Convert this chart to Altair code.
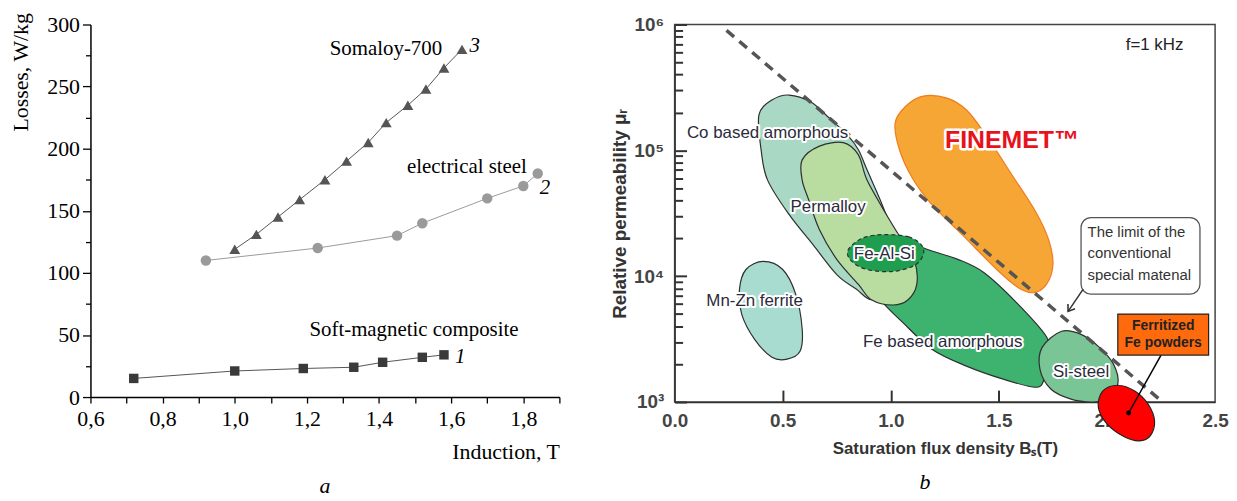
import altair as alt
import pandas as pd

SERIF = "Liberation Serif"
SANS = "Liberation Sans"

# ---------------- panel a : losses vs induction ----------------
smc_x = [0.72, 1.00, 1.19, 1.33, 1.41, 1.52, 1.58]
smc_y = [15, 21, 23, 24, 28, 32, 34]
steel_x = [0.92, 1.23, 1.45, 1.52, 1.70, 1.80, 1.84]
steel_y = [110, 120, 130, 140, 160, 170, 180]
som_x = [1.00, 1.06, 1.12, 1.18, 1.25, 1.31, 1.37, 1.42, 1.48, 1.53, 1.58, 1.63]
som_y = [119, 131, 145, 159, 175, 190, 205, 221, 235, 248, 265, 280]

a_x_ticks = [0.6, 0.7, 0.8, 0.9, 1.0, 1.1, 1.2, 1.3, 1.4, 1.5, 1.6, 1.7, 1.8, 1.9]
a_y_ticks = [0, 25, 50, 75, 100, 125, 150, 175, 200, 225, 250, 275, 300]

a_names = ["Somaloy-700", "electrical steel"]
a_names_x = [1.575, 1.81]
a_names_y = [280, 185]
a_smc_name = ["Soft-magnetic composite"]
a_smc_name_x = [1.207]
a_smc_name_y = [54]
a_num = ["3", "2", "1"]
a_num_x = [1.665, 1.86, 1.625]
a_num_y = [283, 168, 32]

# ---------------- panel b : permeability map ----------------
co_x = [0.39, 0.45, 0.53, 0.63, 0.71, 0.80, 0.85, 0.89, 0.96, 1.01, 1.03, 0.98, 0.91, 0.84, 0.75, 0.64, 0.53, 0.43, 0.40]
co_y = [1.91e5, 2.51e5, 2.75e5, 2.42e5, 1.84e5, 1.32e5, 1.01e5, 7.0e4, 3.7e4, 2.14e4, 1.36e4, 7.9e3, 6.5e3, 7.9e3, 1.03e4, 1.78e4, 3.08e4, 5.8e4, 1.01e5]
perm_x = [0.59, 0.67, 0.78, 0.85, 0.89, 0.98, 1.05, 1.11, 1.12, 1.08, 1.01, 0.91, 0.85, 0.75, 0.67, 0.62, 0.59]
perm_y = [8.4e4, 1.08e5, 1.15e5, 9.2e4, 5.8e4, 3.08e4, 1.95e4, 1.31e4, 8.6e3, 6.5e3, 5.9e3, 6.5e3, 8.6e3, 1.36e4, 2.34e4, 4.05e4, 5.8e4]
feam_x = [0.85, 1.03, 1.17, 1.31, 1.43, 1.58, 1.72, 1.74, 1.71, 1.67, 1.52, 1.35, 1.19, 1.05, 0.97, 0.89, 0.84]
feam_y = [1.78e4, 2.0e4, 1.63e4, 1.36e4, 1.07e4, 6.2e3, 3.3e3, 2.2e3, 1.52e3, 1.31e3, 1.52e3, 1.93e3, 2.63e3, 4.37e3, 5.97e3, 8.6e3, 1.24e4]
fealsi_x = [0.97, 1.08, 1.14, 1.15, 1.11, 1.01, 0.89, 0.82, 0.80, 0.84, 0.89]
fealsi_y = [2.14e4, 2.06e4, 1.78e4, 1.49e4, 1.22e4, 1.09e4, 1.13e4, 1.31e4, 1.57e4, 1.88e4, 2.06e4]
mnzn_x = [0.41, 0.50, 0.56, 0.59, 0.58, 0.52, 0.45, 0.37, 0.31, 0.30, 0.33]
mnzn_y = [1.31e4, 1.13e4, 7.2e3, 3.8e3, 2.53e3, 2.19e3, 2.27e3, 3.15e3, 5.0e3, 7.9e3, 1.13e4]
sist_x = [1.79, 1.88, 1.96, 2.03, 2.05, 2.00, 1.93, 1.83, 1.74, 1.69, 1.70]
sist_y = [3.65e3, 3.45e3, 2.77e3, 2.0e3, 1.39e3, 1.06e3, 1.0e3, 1.06e3, 1.27e3, 1.82e3, 2.72e3]
fin_x = [1.15, 1.26, 1.35, 1.44, 1.56, 1.67, 1.73, 1.75, 1.72, 1.66, 1.59, 1.49, 1.33, 1.19, 1.10, 1.04, 1.02, 1.07]
fin_y = [2.70e5, 2.60e5, 2.09e5, 1.32e5, 6.4e4, 3.25e4, 1.95e4, 1.24e4, 8.6e3, 7.4e3, 8.1e3, 1.13e4, 2.14e4, 3.7e4, 6.0e4, 1.01e5, 1.65e5, 2.25e5]
red_x = [2.05, 2.13, 2.19, 2.22, 2.20, 2.15, 2.08, 2.00, 1.96, 1.98]
red_y = [1.36e3, 1.22e3, 964, 708, 538, 491, 529, 670, 912, 1.22e3]

limit_x = [0.24, 2.24]
limit_y = [8.97e5, 1.06e3]

region_names = ["Co based amorphous", "Permalloy", "Fe-Al-Si", "Mn-Zn ferrite", "Fe based amorphous", "Si-steel"]
region_x = [0.43, 0.71, 0.97, 0.37, 1.24, 1.88]
region_y = [1.37e5, 3.57e4, 1.49e4, 6.3e3, 2.99e3, 1.73e3]

box1_x = [1.88]; box1_x2 = [2.43]; box1_y = [7.2e3]; box1_y2 = [2.92e4]
box1_text = ["The limit of the", "conventional", "special matenal"]
box1_text_x = [1.91, 1.91, 1.91]
box1_text_y = [2.26e4, 1.54e4, 1.03e4]
arrow1_x = [1.89, 1.82]
arrow1_y = [7.9e3, 5.25e3]

box2_x = [2.05]; box2_x2 = [2.47]; box2_y = [2.36e3]; box2_y2 = [5.0e3]
box2_text = ["Ferritized", "Fe powders"]
box2_text_x = [2.26, 2.26]
box2_text_y = [4.0e3, 2.93e3]
pointer_x = [2.10, 2.25]
pointer_y = [818, 2.36e3]

b_x_labels = [0.0, 0.5, 1.0, 1.5, 2.0, 2.5]
b_x_inner = [0.5, 1.0, 1.5, 2.0]
b_y_labels = [1e3, 1e4, 1e5, 1e6]
b_y_inner = [m * d for d in [1e3, 1e4, 1e5] for m in range(1, 10)] + [1e6]


def pts(xs, ys):
    return pd.DataFrame({"x": xs, "y": ys, "i": list(range(len(xs)))})


# ================= panel a =================
xa = alt.Scale(domain=[0.6, 1.9], nice=False, zero=False)
ya = alt.Scale(domain=[0, 300], nice=False, zero=False)

x_axis_a = alt.Axis(
    values=a_x_ticks, title="Induction, T", titleAnchor="end",
    labelExpr="round(datum.value*10) % 2 == 0 ? replace(format(datum.value, '.1f'), '.', ',') : ''",
    labelOverlap=False, labelFlush=False, grid=False,
    tickSize=6, tickWidth=1.3, tickColor="black", domainColor="black", domainWidth=1.5,
    labelFont=SERIF, labelFontSize=22, labelColor="black", labelPadding=6,
    titleFont=SERIF, titleFontSize=22, titleFontWeight="normal", titleColor="black", titlePadding=12,
)
y_axis_a = alt.Axis(
    values=a_y_ticks, title="Losses, W/kg", titleAnchor="end", titleY=-12,
    labelExpr="datum.value % 50 == 0 ? datum.label : ''",
    labelOverlap=False, labelFlush=False, grid=False,
    tickSize={"condition": {"test": "datum.value % 50 == 0", "value": 8}, "value": 5},
    tickWidth=1.3, tickColor="black", domainColor="black", domainWidth=1.5,
    labelFont=SERIF, labelFontSize=22, labelColor="black", labelPadding=3,
    titleFont=SERIF, titleFontSize=22, titleFontWeight="normal", titleColor="black", titlePadding=14,
)

series = [
    (smc_x, smc_y, "#555555", "square", "#3a3a3a", 90),
    (steel_x, steel_y, "#9a9a9a", "circle", "#9a9a9a", 110),
    (som_x, som_y, "#555555", "triangle-up", "#555555", 120),
]
a_layers = []
first = True
for xs, ys, lc, shp, mc, sz in series:
    df = pts(xs, ys)
    ax = x_axis_a if first else None
    ay = y_axis_a if first else None
    first = False
    a_layers.append(alt.Chart(df).mark_line(color=lc, strokeWidth=1).encode(
        x=alt.X("x:Q", scale=xa, axis=ax), y=alt.Y("y:Q", scale=ya, axis=ay), order="i:Q"))
    a_layers.append(alt.Chart(df).mark_point(shape=shp, filled=True, size=sz, color=mc, opacity=1).encode(
        x=alt.X("x:Q", scale=xa, axis=None), y=alt.Y("y:Q", scale=ya, axis=None)))

names_df = pd.DataFrame({"x": a_names_x, "y": a_names_y, "t": a_names})
a_layers.append(alt.Chart(names_df).mark_text(font=SERIF, fontSize=21, align="right", baseline="middle", color="black").encode(
    x=alt.X("x:Q", scale=xa, axis=None), y=alt.Y("y:Q", scale=ya, axis=None), text="t:N"))
smc_df = pd.DataFrame({"x": a_smc_name_x, "y": a_smc_name_y, "t": a_smc_name})
a_layers.append(alt.Chart(smc_df).mark_text(font=SERIF, fontSize=21, align="left", baseline="middle", color="black").encode(
    x=alt.X("x:Q", scale=xa, axis=None), y=alt.Y("y:Q", scale=ya, axis=None), text="t:N"))
num_df = pd.DataFrame({"x": a_num_x, "y": a_num_y, "t": a_num})
a_layers.append(alt.Chart(num_df).mark_text(font=SERIF, fontSize=21, fontStyle="italic", align="center", baseline="middle", color="black").encode(
    x=alt.X("x:Q", scale=xa, axis=None), y=alt.Y("y:Q", scale=ya, axis=None), text="t:N"))

left = alt.layer(*a_layers).resolve_axis(x="independent", y="independent").properties(
    width=472, height=375,
    title=alt.TitleParams("a", orient="bottom", font=SERIF, fontSize=22, fontStyle="italic",
                          fontWeight="normal", color="black", offset=14),
)

# ================= panel b =================
xb = alt.Scale(domain=[0, 2.5], nice=False, zero=False)
yb = alt.Scale(type="log", domain=[1000, 1000000], nice=False)
W, H = 544, 380

x_axis_b = alt.Axis(
    values=b_x_labels, format=".1f", ticks=False, grid=False, labelFlush=False, labelOverlap=False,
    domainColor="#333", domainWidth=1.5, labelFont=SANS, labelFontSize=19, labelFontWeight="bold",
    labelColor="#444", labelPadding=10,
    title="Saturation flux density   B\u209b(T)", titleFont=SANS, titleFontSize=17, titleFontWeight="bold",
    titleColor="#333", titlePadding=10,
)
y_axis_b = alt.Axis(
    values=b_y_labels, ticks=False, grid=False, labelFlush=False, labelOverlap=False,
    labelExpr="datum.value == 1000 ? '10\u00b3' : datum.value == 10000 ? '10\u2074' : datum.value == 100000 ? '10\u2075' : '10\u2076'",
    domainColor="#333", domainWidth=1.5, labelFont=SANS, labelFontSize=19, labelFontWeight="bold",
    labelColor="#444", labelPadding=11,
    title="Relative permeability \u03bc\u1d63", titleFont=SANS, titleFontSize=19, titleFontWeight="bold",
    titleColor="#333", titlePadding=4,
)
x_axis_in = alt.Axis(orient="top", offset=-H, values=b_x_inner, labels=False, domain=False, grid=False,
                     tickSize=12, tickWidth=2, tickColor="#333", title=None)
y_axis_in = alt.Axis(orient="right", offset=-W, values=b_y_inner, labels=False, domain=False, grid=False,
                     tickSize={"condition": {"test": "datum.value == 1000 || datum.value == 10000 || datum.value == 100000 || datum.value == 1000000", "value": 12}, "value": 8},
                     tickWidth=2, tickColor="#333", title=None)


def X(ax=None):
    return alt.X("x:Q", scale=xb, axis=ax)


def Y(ax=None):
    return alt.Y("y:Q", scale=yb, axis=ax)


blobs = [
    (feam_x, feam_y, "#3db36f", "#2f2f2f", None),
    (co_x, co_y, "#a9d9c4", "#2f2f2f", None),
    (perm_x, perm_y, "#b9dca1", "#2f2f2f", None),
    (fealsi_x, fealsi_y, "#1f9e50", "#2f2f2f", [4, 3]),
    (mnzn_x, mnzn_y, "#a9dcd0", "#2f2f2f", None),
    (sist_x, sist_y, "#7ac596", "#2f2f2f", None),
    (fin_x, fin_y, "#f6a634", "#f07c1e", None),
    (red_x, red_y, "#ff0000", "#222222", None),
]
b_layers = []
for xs, ys, fc, sc, dash in blobs:
    kw = dict(interpolate="cardinal-closed", fill=fc, stroke=sc, strokeWidth=1.2, fillOpacity=1)
    if dash:
        kw["strokeDash"] = dash
    b_layers.append(alt.Chart(pts(xs, ys)).mark_line(**kw).encode(x=X(), y=Y(), order="i:Q"))

# dashed limit line carries main axes
b_layers.append(alt.Chart(pts(limit_x, limit_y)).mark_line(strokeDash=[10, 7], strokeWidth=3.5, color="#555").encode(
    x=X(x_axis_b), y=Y(y_axis_b), order="i:Q"))

reg_df = pd.DataFrame({"x": region_x, "y": region_y, "t": region_names})
b_layers.append(alt.Chart(reg_df).mark_text(font=SANS, fontSize=17, stroke="white", strokeWidth=4, fill="white",
                                            strokeJoin="round", align="center", baseline="middle").encode(x=X(), y=Y(), text="t:N"))
b_layers.append(alt.Chart(reg_df).mark_text(font=SANS, fontSize=17, color="#2a2a3a", align="center", baseline="middle").encode(
    x=X(), y=Y(), text="t:N"))

fin_df = pd.DataFrame({"x": [1.56], "y": [1.21e5], "t": ["FINEMET\u2122"]})
b_layers.append(alt.Chart(fin_df).mark_text(font=SANS, fontSize=25, fontWeight="bold", stroke="white", strokeWidth=5,
                                            fill="white", strokeJoin="round", align="center", baseline="middle").encode(x=X(), y=Y(), text="t:N"))
b_layers.append(alt.Chart(fin_df).mark_text(font=SANS, fontSize=25, fontWeight="bold", color="#e8121c",
                                            align="center", baseline="middle").encode(x=X(), y=Y(), text="t:N"))

# limit-of-material callout
box1 = pd.DataFrame({"x": box1_x, "x2": box1_x2, "y": box1_y, "y2": box1_y2})
b_layers.append(alt.Chart(box1).mark_rect(fill="white", stroke="#555", strokeWidth=1.3, cornerRadius=10).encode(
    x=X(), x2="x2:Q", y=Y(), y2="y2:Q"))
t1 = pd.DataFrame({"x": box1_text_x, "y": box1_text_y, "t": box1_text})
b_layers.append(alt.Chart(t1).mark_text(font=SANS, fontSize=15, color="#333", align="left", baseline="middle").encode(
    x=X(), y=Y(), text="t:N"))
b_layers.append(alt.Chart(pts(arrow1_x, arrow1_y)).mark_line(color="#333", strokeWidth=1.5).encode(x=X(), y=Y(), order="i:Q"))
b_layers.append(alt.Chart(pts(arrow1_x[1:], arrow1_y[1:])).mark_point(
    shape="M-0.7,-1L0,0L0.7,-1", filled=False, size=150, angle=34, color="#333", strokeWidth=1.6, opacity=1).encode(x=X(), y=Y()))

# ferritized powders callout
b_layers.append(alt.Chart(pts(pointer_x, pointer_y)).mark_line(color="black", strokeWidth=1.5).encode(x=X(), y=Y(), order="i:Q"))
b_layers.append(alt.Chart(pts(pointer_x[:1], pointer_y[:1])).mark_point(shape="circle", filled=True, size=25, color="black", opacity=1).encode(x=X(), y=Y()))
box2 = pd.DataFrame({"x": box2_x, "x2": box2_x2, "y": box2_y, "y2": box2_y2})
b_layers.append(alt.Chart(box2).mark_rect(fill="#ff6a0d", stroke="#222", strokeWidth=1.2).encode(
    x=X(), x2="x2:Q", y=Y(), y2="y2:Q"))
t2 = pd.DataFrame({"x": box2_text_x, "y": box2_text_y, "t": box2_text})
b_layers.append(alt.Chart(t2).mark_text(font=SANS, fontSize=14, fontWeight="bold", color="#222", align="center", baseline="middle").encode(
    x=X(), y=Y(), text="t:N"))

# frequency note carries inward tick axes
fdf = pd.DataFrame({"x": [2.22], "y": [6.84e5], "t": ["f=1 kHz"]})
b_layers.append(alt.Chart(fdf).mark_text(font=SANS, fontSize=17, color="#222", align="center", baseline="middle").encode(
    x=X(x_axis_in), y=Y(y_axis_in), text="t:N"))

right = alt.layer(*b_layers).resolve_axis(x="independent", y="independent").properties(
    width=W, height=H,
    view=alt.ViewBackground(stroke="#444", strokeWidth=1.5),
    title=alt.TitleParams("b", orient="bottom", font=SERIF, fontSize=22, fontStyle="italic",
                          fontWeight="normal", color="black", offset=16, dx=-20),
)

chart = alt.hconcat(left, right, spacing=116, bounds="flush").properties(
    padding={"left": 2, "top": 2, "right": 0, "bottom": 0}
).configure_view(strokeWidth=0)

chart.save("out.html", embed_options={"renderer": "svg", "actions": False})
